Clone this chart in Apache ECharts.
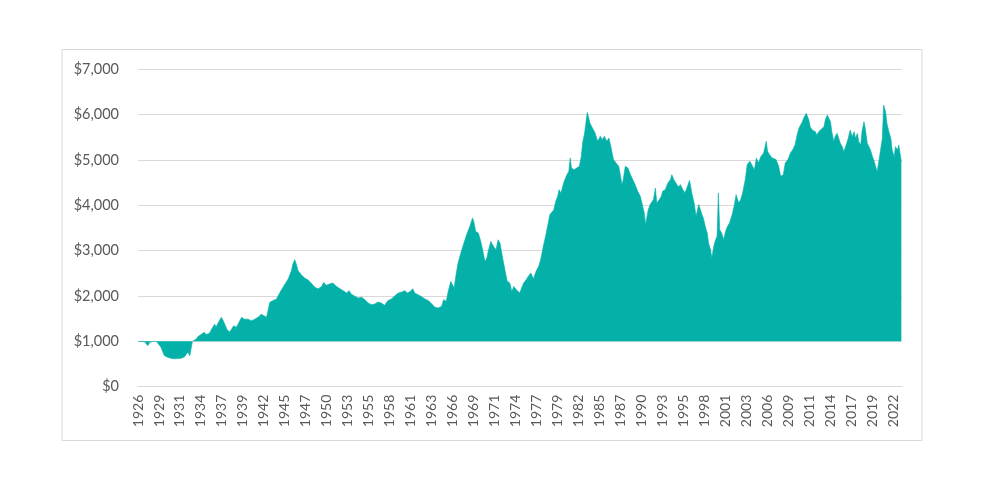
<!DOCTYPE html>
<html>
<head>
<meta charset="utf-8">
<script src="https://cdn.jsdelivr.net/npm/echarts@6/dist/echarts.min.js"></script>
<style>
  html, body { margin: 0; padding: 0; background: #fff; }
  #chart { width: 1000px; height: 500px; }
</style>
</head>
<body>
<div id="chart"></div>
<script>
// month of each reading (series starts Jul 1926)
var dates = [
  '1926-07','1927-05','1927-10','1928-01','1928-06','1928-11','1929-02','1929-06','1929-11','1930-04',
  '1930-09','1931-02','1931-07','1932-01','1932-06','1932-11','1933-02','1933-04','1933-06','1933-09',
  '1933-12','1934-02','1934-07','1934-12','1935-03','1935-08','1935-12','1936-04','1936-06','1936-09',
  '1937-02','1937-05','1937-08','1937-11','1938-03','1938-06','1938-09','1939-01','1939-04','1939-09',
  '1940-01','1940-07','1940-12','1941-05','1941-10','1942-03','1942-06','1942-11','1943-02','1943-04',
  '1943-09','1944-02','1944-04','1944-09','1945-03','1945-08','1946-01','1946-03','1946-06','1946-08',
  '1946-11','1947-01','1947-04','1947-09','1948-02','1948-07','1949-01','1949-06','1949-11','1950-02',
  '1950-06','1950-11','1951-04','1951-10','1952-03','1952-08','1953-01','1953-05','1953-08','1954-02',
  '1954-07','1954-12','1955-05','1955-10','1956-03','1956-08','1957-01','1957-06','1957-11','1958-04',
  '1958-10','1959-03','1959-08','1960-01','1960-06','1960-10','1961-02','1961-06','1961-09','1962-02',
  '1962-07','1962-12','1963-06','1963-11','1964-04','1964-09','1965-02','1965-05','1965-09','1965-12',
  '1966-04','1966-07','1966-09','1966-12','1967-03','1967-08','1967-12','1968-04','1968-09','1969-01',
  '1969-03','1969-06','1969-10','1970-01','1970-04','1970-08','1970-11','1971-01','1971-05','1971-09',
  '1972-01','1972-04','1972-07','1972-11','1973-03','1973-06','1973-10','1974-01','1974-04','1974-08',
  '1975-01','1975-04','1975-07','1975-11','1976-02','1976-06','1976-10','1977-02','1977-06','1977-09',
  '1978-01','1978-05','1978-09','1978-11','1979-02','1979-05','1979-08','1979-11','1980-01','1980-04',
  '1980-08','1980-10','1981-01','1981-04','1981-06','1981-08','1981-12','1982-04','1982-08','1982-11',
  '1983-01','1983-04','1983-06','1983-08','1983-10','1983-12','1984-04','1984-08','1984-12','1985-04',
  '1985-07','1985-10','1986-02','1986-05','1986-08','1986-12','1987-04','1987-08','1987-10','1988-01',
  '1988-03','1988-06','1988-10','1989-02','1989-05','1989-09','1990-01','1990-05','1990-08','1990-11',
  '1991-01','1991-05','1991-08','1991-11','1992-01','1992-04','1992-06','1992-10','1993-01','1993-03',
  '1993-07','1993-11','1994-03','1994-05','1994-08','1994-11','1995-03','1995-06','1995-10','1996-01',
  '1996-04','1996-08','1996-12','1997-03','1997-06','1997-10','1997-12','1998-03','1998-05','1998-08',
  '1998-11','1999-01','1999-04','1999-06','1999-09','1999-11','2000-02','2000-04','2000-06','2000-09',
  '2000-12','2001-03','2001-06','2001-09','2002-01','2002-04','2002-07','2002-11','2003-02','2003-05',
  '2003-09','2003-12','2004-04','2004-07','2004-11','2005-02','2005-05','2005-09','2006-01','2006-05',
  '2006-07','2006-10','2007-02','2007-05','2007-08','2007-12','2008-03','2008-07','2008-10','2009-02',
  '2009-06','2009-10','2010-01','2010-04','2010-07','2010-09','2010-12','2011-02','2011-06','2011-07',
  '2011-10','2011-12','2012-03','2012-05','2012-08','2012-10','2013-02','2013-05','2013-09','2013-11',
  '2014-02','2014-04','2014-07','2014-09','2014-12','2015-02','2015-05','2015-08','2015-10','2016-01',
  '2016-03','2016-06','2016-10','2017-01','2017-04','2017-07','2017-09','2017-12','2018-02','2018-05',
  '2018-07','2018-10','2018-12','2019-03','2019-05','2019-08','2019-11','2020-01','2020-04','2020-06',
  '2020-09','2020-11','2021-02','2021-04','2021-07','2021-09','2021-12','2022-03','2022-05','2022-08',
  '2022-10','2023-01','2023-03','2023-06','2023-07'
];

// growth of $1,000
var values = [
  1000, 990, 905, 980, 1000, 1000, 990, 870, 690, 650,
  625, 615, 620, 630, 660, 760, 680, 690, 1000, 1000,
  1050, 1100, 1150, 1200, 1150, 1180, 1290, 1380, 1320, 1345,
  1530, 1455, 1420, 1250, 1210, 1230, 1345, 1310, 1275, 1530,
  1490, 1490, 1455, 1490, 1530, 1600, 1565, 1530, 1530, 1860,
  1900, 1930, 1970, 2120, 2260, 2375, 2560, 2700, 2800, 2720,
  2560, 2590, 2470, 2395, 2360, 2286, 2190, 2160, 2210, 2300,
  2235, 2265, 2286, 2210, 2160, 2117, 2065, 2117, 2044, 1992,
  1955, 1970, 1920, 1845, 1810, 1823, 1867, 1845, 1794, 1897,
  1940, 2014, 2065, 2088, 2117, 2065, 2102, 2160, 2065, 2029,
  1992, 1940, 1897, 1823, 1750, 1735, 1772, 1920, 1882, 2102,
  2323, 2286, 2176, 2470, 2727, 2985, 3168, 3350, 3535, 3720,
  3646, 3425, 3388, 3240, 3058, 2764, 2838, 2985, 3205, 3095,
  3020, 3240, 3168, 2838, 2544, 2323, 2286, 2102, 2212, 2140,
  2065, 2176, 2286, 2360, 2433, 2507, 2382, 2544, 2654, 2800,
  3095, 3352, 3646, 3793, 3756, 3900, 4089, 4199, 4346, 4273,
  4493, 4567, 4677, 4750, 5045, 4824, 4787, 4824, 4861, 5081,
  5375, 5596, 5816, 6050, 5950, 5816, 5706, 5596, 5412, 5522,
  5449, 5522, 5412, 5485, 5302, 5008, 4934, 4861, 4714, 4457,
  4567, 4861, 4824, 4677, 4699, 4457, 4310, 4199, 4163, 3832,
  3575, 3905, 4016, 4052, 4126, 4383, 4052, 4126, 4199, 4310,
  4346, 4493, 4567, 4677, 4567, 4530, 4405, 4457, 4346, 4273,
  4383, 4552, 4236, 4052, 3758, 4016, 3979, 3795, 3722, 3538,
  3391, 3170, 3023, 2840, 3097, 3207, 3317, 4273, 3464, 3391,
  3244, 3428, 3538, 3611, 3795, 3979, 4236, 4052, 4126, 4273,
  4567, 4898, 4971, 5008, 4787, 5045, 4934, 5081, 5155, 5412,
  5192, 5118, 5045, 5081, 5008, 4861, 4640, 4677, 4934, 5008,
  5155, 5243, 5339, 5552, 5706, 5662, 5846, 5919, 6029, 6066,
  5882, 5735, 5662, 5699, 5625, 5552, 5640, 5625, 5735, 5882,
  5993, 6029, 5846, 5625, 5405, 5515, 5588, 5552, 5368, 5294,
  5184, 5294, 5478, 5662, 5515, 5625, 5478, 5588, 5405, 5331,
  5625, 5846, 5699, 5368, 5331, 5221, 5074, 5000, 4964, 4743,
  5000, 4964, 5478, 6213, 6066, 5809, 5625, 5478, 5221, 5074,
  5294, 5221, 5331, 5368, 4964
];

// x-axis labels, one every 32 months from Jul 1926
var xTickLabels = ['1926','1929','1931','1934','1937','1939','1942','1945','1947','1950',
  '1953','1955','1958','1961','1963','1966','1969','1971','1974','1977',
  '1979','1982','1985','1987','1990','1993','1995','1998','2001','2003',
  '2006','2009','2011','2014','2017','2019','2022'];

var baseValue = 1000;

function monthIndex(d) {
  var p = d.split('-');
  return (parseInt(p[0], 10) - 1926) * 12 + (parseInt(p[1], 10) - 7);
}

var seriesData = dates.map(function (d, i) { return [monthIndex(d), values[i]]; });

var chart = echarts.init(document.getElementById('chart'));

var option = {
  backgroundColor: '#ffffff',
  animation: false,
  textStyle: { fontFamily: 'Lato, "Open Sans", sans-serif' },
  graphic: [{
    type: 'rect',
    shape: { x: 62, y: 49.5, width: 860, height: 391 },
    style: { fill: 'none', stroke: '#d9d9d9', lineWidth: 1 },
    silent: true
  }],
  grid: { left: 138, right: 98, top: 69.3, bottom: 113.3, containLabel: false },
  xAxis: {
    type: 'value',
    min: 0,
    max: 1165,
    interval: 32,
    axisLine: { show: true, lineStyle: { color: '#d9d9d9', width: 1 } },
    axisTick: { show: false },
    splitLine: { show: false },
    axisLabel: {
      rotate: 90,
      margin: 8,
      color: '#595959',
      fontSize: 14,
      showMaxLabel: false,
      formatter: function (v) {
        var k = Math.round(v / 32);
        return xTickLabels[k] || '';
      }
    }
  },
  yAxis: {
    type: 'value',
    min: 0,
    max: 7000,
    interval: 1000,
    axisLine: { show: false },
    axisTick: { show: false },
    splitLine: { lineStyle: { color: '#d9d9d9', width: 1 } },
    axisLabel: {
      color: '#595959',
      fontSize: 14.5,
      margin: 19,
      formatter: function (v) { return '$' + v.toLocaleString('en-US'); }
    }
  },
  series: [{
    type: 'line',
    data: seriesData,
    showSymbol: false,
    lineStyle: { width: 0.6, color: '#03b1a9' },
    areaStyle: { color: '#03b1a9', opacity: 1, origin: baseValue }
  }]
};

chart.setOption(option);
</script>
</body>
</html>
